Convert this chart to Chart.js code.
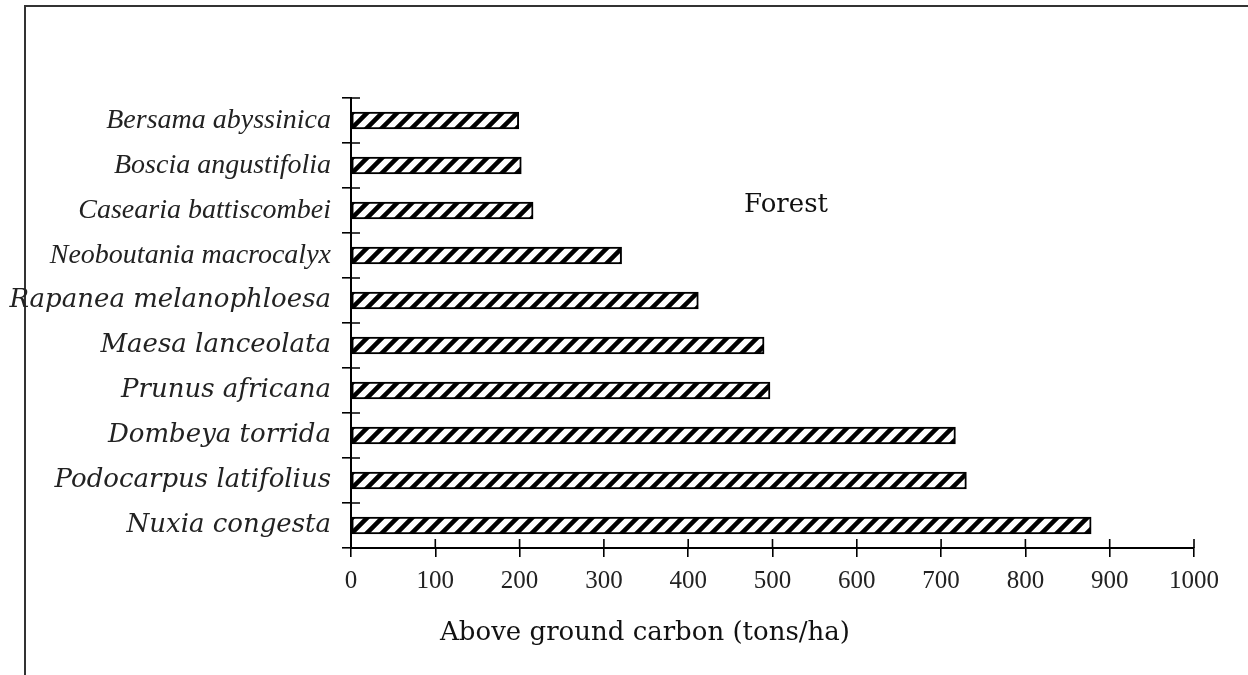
<!DOCTYPE html>
<html lang="en">
<head>
    <meta charset="UTF-8">
    <title>Above ground carbon - Forest</title>
    <script src="https://cdn.jsdelivr.net/npm/chart.js"></script>
    <style>
        html, body { margin: 0; padding: 0; background: #fff; }
        #wrap { position: relative; width: 1248px; height: 675px; }
    </style>
</head>
<body>
    <div id="wrap"><canvas id="carbonChart" width="1248" height="675"></canvas></div>
    <script>
        // species, top to bottom as in the figure
        const species = [
            'Bersama abyssinica',
            'Boscia angustifolia',
            'Casearia battiscombei',
            'Neoboutania macrocalyx',
            'Rapanea melanophloesa',
            'Maesa lanceolata',
            'Prunus africana',
            'Dombeya torrida',
            'Podocarpus latifolius',
            'Nuxia congesta'
        ];
        const carbon = [199, 202, 216, 321, 412, 490, 497, 717, 730, 878];
        const xTicks = { min: 0, max: 1000, step: 100 };
        const axisTitle = 'Above ground carbon (tons/ha)';
        const panelLabel = 'Forest';

        // diagonal hatch fill
        function hatch() {
            const s = 15;
            const c = document.createElement('canvas');
            c.width = s; c.height = s;
            const g = c.getContext('2d');
            g.fillStyle = '#fff';
            g.fillRect(0, 0, s, s);
            g.strokeStyle = '#000';
            g.lineWidth = 4.5;
            g.beginPath();
            g.moveTo(0, s); g.lineTo(s, 0);
            g.moveTo(-s / 2, s / 2); g.lineTo(s / 2, -s / 2);
            g.moveTo(s / 2, s * 1.5); g.lineTo(s * 1.5, s / 2);
            g.stroke();
            return g.createPattern(c, 'repeat');
        }

        const TICK = 9;

        // frame, inner halves of the crossing ticks, free text
        const extras = {
            id: 'extras',
            beforeDraw(chart) {
                const ctx = chart.ctx;
                ctx.save();
                ctx.strokeStyle = '#333';
                ctx.lineWidth = 2;
                ctx.beginPath();
                ctx.moveTo(25, 675); ctx.lineTo(25, 6); ctx.lineTo(1248, 6);
                ctx.stroke();
                ctx.restore();
            },
            afterDraw(chart) {
                const ctx = chart.ctx;
                const x = chart.scales.x, y = chart.scales.y;
                ctx.save();
                ctx.strokeStyle = '#000';
                ctx.lineWidth = 1.6;
                ctx.beginPath();
                for (let i = 0; i <= species.length; i++) {
                    const py = y.getPixelForValue(i - 0.5);
                    ctx.moveTo(x.left, py); ctx.lineTo(x.left + TICK, py);
                }
                x.ticks.forEach(t => {
                    const px = x.getPixelForValue(t.value);
                    ctx.moveTo(px, y.bottom); ctx.lineTo(px, y.bottom - TICK);
                });
                ctx.stroke();

                ctx.fillStyle = '#111';
                ctx.textAlign = 'center';
                ctx.textBaseline = 'middle';
                ctx.font = '26px "DejaVu Serif"';
                ctx.fillText(axisTitle, 645, 633);
                ctx.fillText(panelLabel, x.getPixelForValue(516), y.getPixelForValue(2) - 5);
                ctx.restore();
            }
        };

        const ctx = document.getElementById('carbonChart').getContext('2d');
        new Chart(ctx, {
            type: 'bar',
            data: {
                labels: species,
                datasets: [{
                    data: carbon,
                    backgroundColor: hatch(),
                    borderColor: '#000',
                    borderWidth: 2,
                    borderSkipped: false,
                    barThickness: 17
                }]
            },
            options: {
                indexAxis: 'y',
                responsive: false,
                animation: false,
                layout: { padding: { top: 98, right: 54, left: 0, bottom: 0 } },
                plugins: { legend: { display: false }, tooltip: { enabled: false } },
                scales: {
                    x: {
                        min: xTicks.min, max: xTicks.max,
                        ticks: {
                            stepSize: xTicks.step, color: '#222', padding: 9,
                            maxRotation: 0, autoSkip: false,
                            callback: v => String(v),
                            font: { family: '"Liberation Serif"', size: 25 }
                        },
                        grid: { drawOnChartArea: false, color: '#000', lineWidth: 1.6, tickLength: TICK },
                        border: { color: '#000', width: 2 },
                        afterFit: s => { s.height = 127; }
                    },
                    y: {
                        ticks: {
                            color: '#222', padding: 11, autoSkip: false,
                            font: c => c.index < 4
                                ? { family: '"Liberation Serif"', style: 'italic', size: 28 }
                                : { family: '"DejaVu Serif"', style: 'italic', size: 26 }
                        },
                        grid: { drawOnChartArea: false, color: '#000', lineWidth: 1.6, tickLength: TICK },
                        border: { color: '#000', width: 2 },
                        afterFit: s => { s.width = 351; }
                    }
                }
            },
            plugins: [extras]
        });
    </script>
</body>
</html>
